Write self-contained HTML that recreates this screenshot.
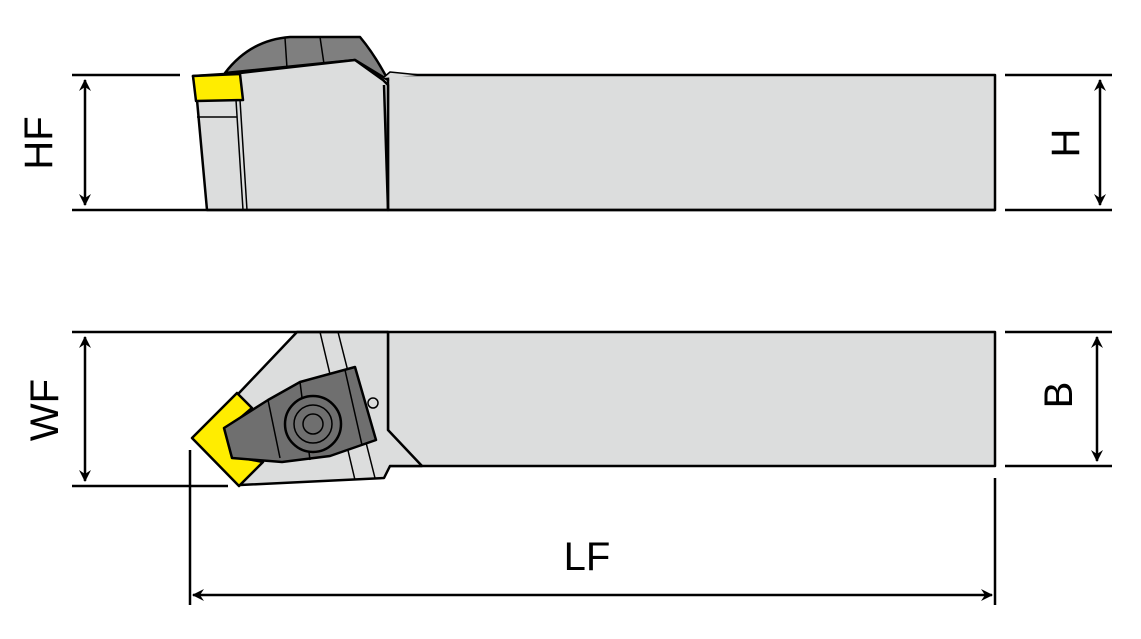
<!DOCTYPE html><html><head><style>body{margin:0;background:#fff}svg{display:block}text{font-family:"Liberation Sans",sans-serif;font-size:40px;fill:#000}</style></head><body>
<svg width="1141" height="639" viewBox="0 0 1141 639" xmlns="http://www.w3.org/2000/svg">
<defs><marker id="a" markerWidth="12" markerHeight="12" refX="11" refY="6" orient="auto-start-reverse" markerUnits="userSpaceOnUse"><path d="M0,0 L12,6 L0,12 L4,6z" fill="#000"/></marker></defs>
<g stroke="#000" stroke-width="2.5" stroke-linejoin="round">
<!-- top view -->
<rect x="388" y="75" width="607" height="135" fill="#dcdddd"/>
<path d="M225,73 Q250,40 290,37 L360,37 Q375,55 388,80 L355,60 Z" fill="#7f7f7f"/>
<path d="M285,38 L287,68 M320,37 L324,64" fill="none" stroke-width="1.5"/>
<path d="M193,76 L240,73 L355,60 L383,80 L388,85 L388,210 L207,210 L197,100 Z" fill="#dcdddd"/>
<path d="M383,78 L390,72 L420,75" fill="#dcdddd" stroke-width="1.5"/>
<path d="M240,100 L247,210 M236,100 L243,210 M197,117 L237,117" fill="none" stroke-width="1.5"/>
<path d="M384,85 L388,210" fill="none"/>
<path d="M193,76 L240,74 L243,100 L196,101 Z" fill="#ffed00"/>
<!-- bottom view -->
<rect x="388" y="332" width="607" height="134" fill="#dcdddd"/>
<path d="M297,332 L388,332 L388,430 L422,466 L390,466 L384,478 L240,485 L195,440 L240,392 Z" fill="#dcdddd"/>
<path d="M320,332 L355,480 M338,332 L375,478 M388,332 L388,430 L422,466" fill="none" stroke-width="1.5"/>
<path d="M192,438 L237,393 L252,408 L226,430 L232,456 L263,462 L239,486 Z" fill="#ffed00"/>
<path d="M224,428 L268,400 L300,382 L355,367 L376,440 L330,456 L282,462 L232,458 Z" fill="#6f6f6f"/>
<path d="M268,400 L280,458 M300,382 L310,460 M345,370 L362,445" fill="none" stroke-width="1.5"/>
<circle cx="373" cy="403" r="5" fill="#dcdddd" stroke-width="1.5"/>
<circle cx="313" cy="424" r="28" fill="#6f6f6f"/>
<circle cx="313" cy="424" r="19" fill="#6f6f6f" stroke-width="1.5"/>
<circle cx="313" cy="424" r="10" fill="#6f6f6f" stroke-width="1.5"/>
<!-- dimension lines -->
<path d="M72,75 L180,75 M72,210 L995,210 M1005,75 L1112,75 M1005,210 L1112,210 M72,332 L388,332 M72,486 L228,486 M1005,332 L1112,332 M1005,466 L1112,466 M190,450 L190,605 M995,478 L995,605" fill="none"/>
<line x1="85" y1="80" x2="85" y2="205" marker-start="url(#a)" marker-end="url(#a)"/>
<line x1="1100" y1="80" x2="1100" y2="205" marker-start="url(#a)" marker-end="url(#a)"/>
<line x1="85" y1="337" x2="85" y2="481" marker-start="url(#a)" marker-end="url(#a)"/>
<line x1="1097" y1="337" x2="1097" y2="461" marker-start="url(#a)" marker-end="url(#a)"/>
<line x1="193" y1="595" x2="992" y2="595" marker-start="url(#a)" marker-end="url(#a)"/>
</g>
<text transform="translate(52,143) rotate(-90)" text-anchor="middle">HF</text>
<text transform="translate(58,410) rotate(-90)" text-anchor="middle">WF</text>
<text transform="translate(1079,143) rotate(-90)" text-anchor="middle">H</text>
<text transform="translate(1072,395) rotate(-90)" text-anchor="middle">B</text>
<text x="587" y="570" text-anchor="middle">LF</text>
</svg></body></html>
